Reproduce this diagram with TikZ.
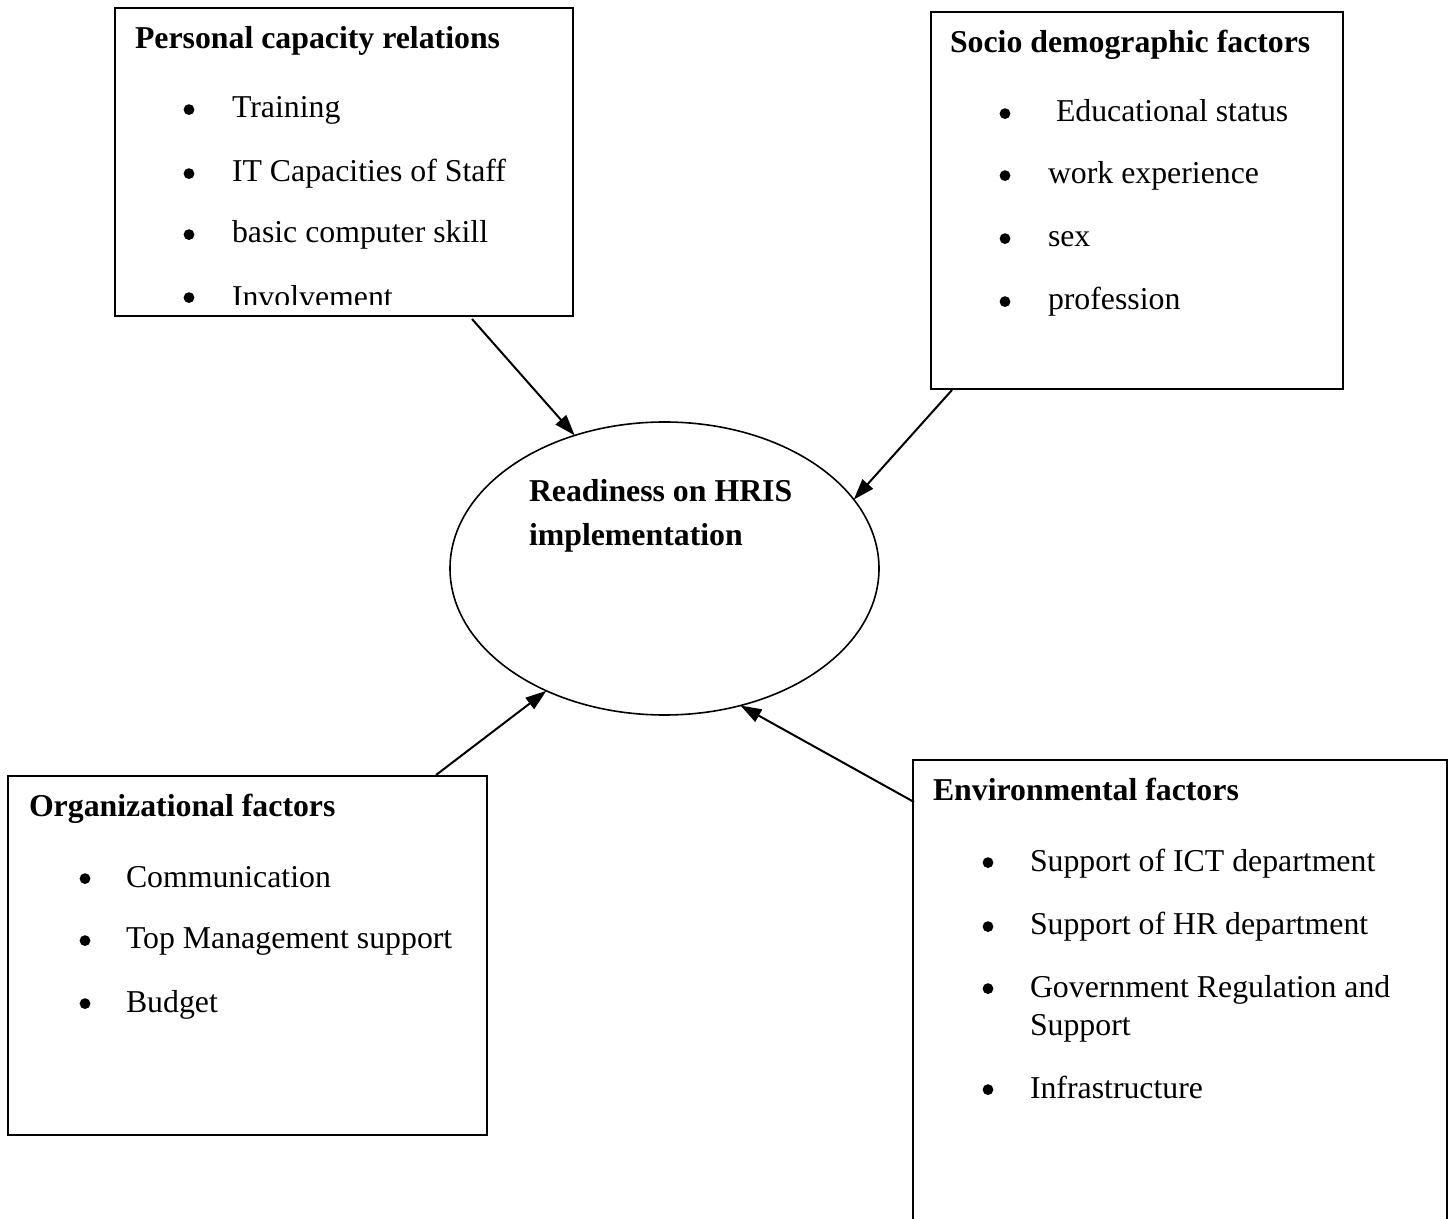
\documentclass[tikz,border=0pt]{standalone}
\usepackage{fontspec}
\setmainfont{Liberation Serif}
\usetikzlibrary{arrows.meta,shapes.geometric}
\begin{document}
\begin{tikzpicture}[x=0.5pt,y=-0.5pt,
  box/.style={draw, line width=1pt, fill=white, inner sep=0pt, outer sep=0pt, anchor=north west},
  txt/.style={inner sep=0pt, outer sep=0pt, anchor=base west, align=left, font=\fontsize{15.9pt}{19pt}\selectfont},
  ttl/.style={inner sep=0pt, outer sep=0pt, anchor=base west, align=left, font=\fontsize{15.9pt}{22pt}\selectfont\bfseries},
  bul/.style={circle, fill=black, inner sep=0pt, outer sep=0pt, minimum size=5.4pt, yshift=4.2pt},
  arr/.style={line width=1pt, -{Triangle[length=10.5pt,width=7pt]}}]
\clip (0,0) rectangle (1453,1219);

% boxes
\node[box, minimum width=229pt, minimum height=154pt] (pc) at (115,8) {};
\node[box, minimum width=206pt, minimum height=188.5pt] (sd) at (931,12) {};
\node[box, minimum width=239.5pt, minimum height=179.5pt] (of) at (8,776) {};
\node[box, minimum width=267pt, minimum height=245pt] (ef) at (913,760) {};
\node[draw, ellipse, line width=0.8pt, minimum width=214.5pt, minimum height=146.5pt, inner sep=0pt, outer sep=0pt] (hris) at (664.5,568.5) {};

% Personal capacity relations
\node[ttl] (pct) at (135,49) {Personal capacity relations};
\node[bul] (pcb1) at (189,118) {};
\node[txt] (pci1) at (232,118) {Training};
\node[bul] (pcb2) at (189,182) {};
\node[txt] (pci2) at (232,182) {IT Capacities of Staff};
\node[bul] (pcb3) at (189,243) {};
\node[txt] (pci3) at (232,243) {basic computer skill};
\node[bul] (pcb4) at (189,306) {};
\begin{scope}
  \clip (115,8) rectangle (573,305);
  \node[txt] (pci4) at (232,308) {Involvement};
\end{scope}

% Socio demographic factors
\node[ttl] (sdt) at (950,53) {Socio demographic factors};
\node[bul] (sdb1) at (1005,122) {};
\node[txt] (sdi1) at (1056,122) {Educational status};
\node[bul] (sdb2) at (1005,184) {};
\node[txt] (sdi2) at (1048,184) {work experience};
\node[bul] (sdb3) at (1005,247) {};
\node[txt] (sdi3) at (1048,247) {sex};
\node[bul] (sdb4) at (1005,310) {};
\node[txt] (sdi4) at (1048,310) {profession};

% Readiness (base anchor = last line)
\node[ttl] (hrist) at (529,546) {Readiness on HRIS\\implementation};

% Organizational factors
\node[ttl] (oft) at (29,817) {Organizational factors};
\node[bul] (ofb1) at (85,887) {};
\node[txt] (ofi1) at (126,887) {Communication};
\node[bul] (ofb2) at (85,949) {};
\node[txt] (ofi2) at (126,949) {Top Management support};
\node[bul] (ofb3) at (85,1012) {};
\node[txt] (ofi3) at (126,1012) {Budget};

% Environmental factors
\node[ttl] (eft) at (933,800) {Environmental factors};
\node[bul] (efb1) at (988,871) {};
\node[txt] (efi1) at (1030,871) {Support of ICT department};
\node[bul] (efb2) at (988,935) {};
\node[txt] (efi2) at (1030,935) {Support of HR department};
\node[bul] (efb3) at (988,997) {};
\node[txt] (efi3) at (1030,1035) {Government Regulation and\\Support};
\node[bul] (efb4) at (988,1098) {};
\node[txt] (efi4) at (1030,1098) {Infrastructure};

% connectors
\coordinate (c1) at (472,319);
\coordinate (c2) at (952,390);
\coordinate (c3) at (436,775);
\coordinate (c4) at (914,802);
\draw[arr] (c1) -- (hris.124.4);
\draw[arr] (c2) -- (hris.20);
\draw[arr] (c3) -- (hris.226.7);
\draw[arr] (c4) -- (hris.299.5);
\end{tikzpicture}
\end{document}
